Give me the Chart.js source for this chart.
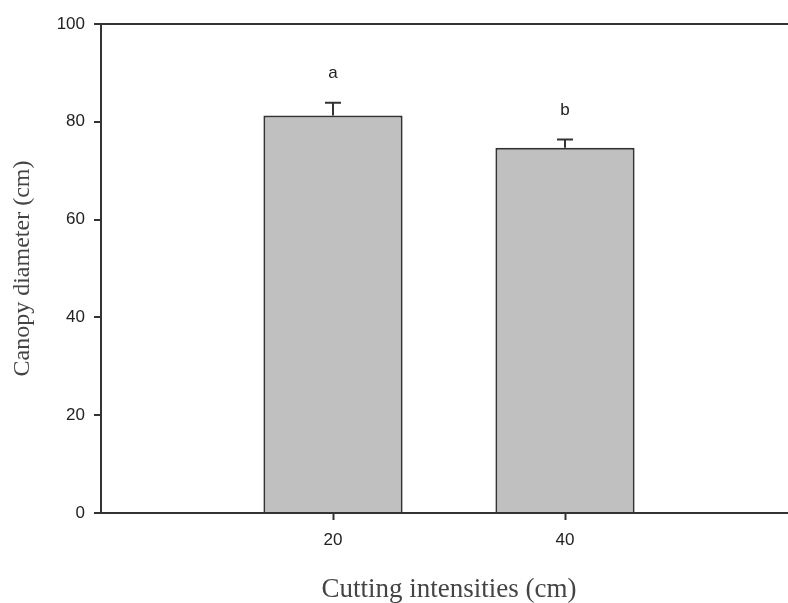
<!DOCTYPE html>
<html>
<head>
<meta charset="utf-8">
<script src="https://cdn.jsdelivr.net/npm/chart.js@4/dist/chart.umd.min.js"></script>
<style>
  html, body { margin: 0; padding: 0; background: #fff; overflow: hidden; }
  #wrap { width: 788px; height: 603px; overflow: hidden; }
  #box { width: 800px; height: 603px; }
</style>
</head>
<body>
<div id="wrap"><div id="box"><canvas id="canopy"></canvas></div></div>
<script>
// cutting intensity (cm) -> canopy diameter (cm)
var intensidades = [20, 40];
var diametro = [81.3, 74.7];
var errores = [2.6, 1.7];
var letras = ['a', 'b'];
var yTicks = [0, 20, 40, 60, 80, 100];

var puntos = intensidades.map(function (x, i) { return { x: x, y: diametro[i] }; });

// upper error bars + significance letters
var barrasError = {
  id: 'barrasError',
  afterDatasetsDraw: function (chart) {
    var c = chart.ctx, xs = chart.scales.x, ys = chart.scales.y;
    c.save();
    c.strokeStyle = '#333';
    c.lineWidth = 2;
    c.fillStyle = '#222';
    c.font = '17px "Liberation Sans", Arial, sans-serif';
    c.textAlign = 'center';
    c.textBaseline = 'middle';
    for (var i = 0; i < intensidades.length; i++) {
      var px = xs.getPixelForValue(intensidades[i]);
      var y0 = ys.getPixelForValue(diametro[i]);
      var y1 = ys.getPixelForValue(diametro[i] + errores[i]);
      c.beginPath();
      c.moveTo(px, y0); c.lineTo(px, y1);
      c.moveTo(px - 8, y1); c.lineTo(px + 8, y1);
      c.stroke();
      c.fillText(letras[i], px, y1 - 29);
    }
    c.restore();
  }
};

var ctx = document.getElementById('canopy').getContext('2d');
var chart = new Chart(ctx, {
  type: 'bar',
  data: {
    datasets: [{
      data: puntos,
      backgroundColor: '#c0c0c0',
      borderColor: '#333',
      borderWidth: 2,
      borderSkipped: 'bottom',
      barPercentage: 0.6,
      categoryPercentage: 1
    }]
  },
  options: {
    responsive: true,
    maintainAspectRatio: false,
    animation: false,
    layout: { padding: { top: 24, right: 3, left: 0, bottom: 0 } },
    plugins: { legend: { display: false }, tooltip: { enabled: false } },
    scales: {
      x: {
        type: 'linear',
        min: 0,
        max: 60,
        offset: false,
        afterBuildTicks: function (s) { s.ticks = intensidades.map(function (v) { return { value: v }; }); },
        afterFit: function (s) { s.height = 90; },
        border: { display: true, color: '#333', width: 2 },
        grid: { offset: false, drawOnChartArea: false, drawTicks: true, tickLength: 7, tickColor: '#333', tickWidth: 2 },
        ticks: {
          color: '#222',
          padding: 10,
          maxRotation: 0,
          font: { family: '"Liberation Sans", Arial, sans-serif', size: 17 }
        },
        title: {
          display: true,
          text: 'Cutting intensities (cm)',
          color: '#444',
          padding: { top: 0, bottom: -3 },
          font: { family: '"Liberation Serif", "Times New Roman", serif', size: 27 }
        }
      },
      y: {
        min: 0,
        max: 100,
        afterBuildTicks: function (s) { s.ticks = yTicks.map(function (v) { return { value: v }; }); },
        afterFit: function (s) { s.width = 101; },
        border: { display: true, color: '#333', width: 2 },
        grid: {
          drawTicks: true,
          tickLength: 7,
          tickColor: '#333',
          tickWidth: 2,
          lineWidth: 2,
          color: function (c) { return c.tick && c.tick.value === 100 ? '#333' : 'rgba(0,0,0,0)'; }
        },
        ticks: {
          color: '#222',
          padding: 9,
          font: { family: '"Liberation Sans", Arial, sans-serif', size: 17 }
        },
        title: {
          display: true,
          text: 'Canopy diameter (cm)',
          color: '#444',
          padding: { top: 8, bottom: 0 },
          font: { family: '"Liberation Serif", "Times New Roman", serif', size: 24 }
        }
      }
    }
  },
  plugins: [barrasError]
});
</script>
</body>
</html>
